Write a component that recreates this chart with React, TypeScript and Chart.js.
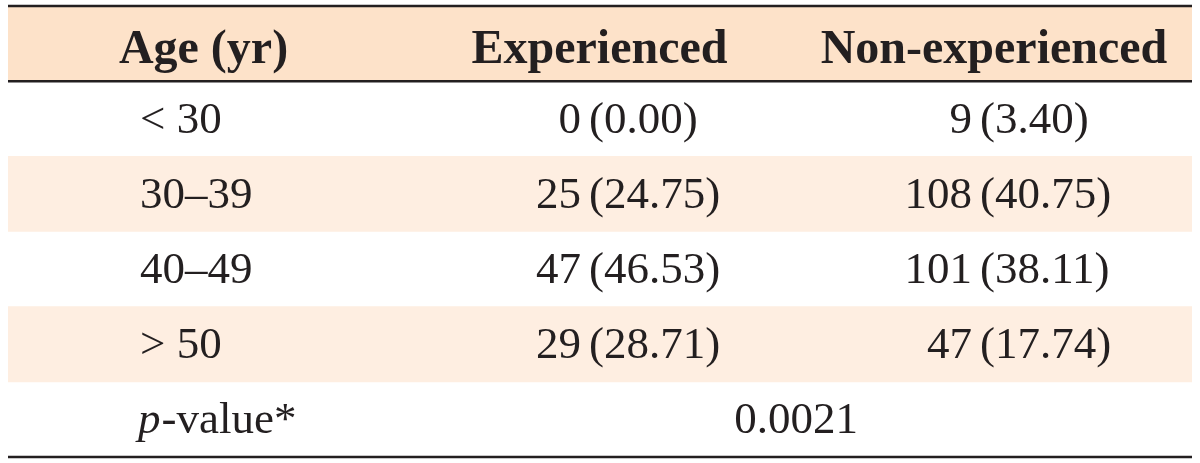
import React, { useEffect, useRef } from 'react';
import { Chart, registerables } from 'chart.js';

Chart.register(...registerables);

// ---- data ----
const headers = ['Age (yr)', 'Experienced', 'Non-experienced'];
const ageGroups = ['< 30', '30–39', '40–49', '> 50'];
const experiencedN = [0, 25, 47, 29];
const experiencedPct = [0.0, 24.75, 46.53, 28.71];
const nonExperiencedN = [9, 108, 101, 47];
const nonExperiencedPct = [3.4, 40.75, 38.11, 17.74];
const pValueItalic = 'p';
const pValueRest = '-value*';
const pValue = '0.0021';

// ---- layout / style ----
const rowKeys = ['header', ...ageGroups, 'pvalue'];
const TEXT = '#231f20';
const HEADER_BG = '#fde2c9';
const BAND_BG = '#feeee1';
const FONT = '"Liberation Serif", "Times New Roman", serif';
const TABLE_LEFT = 8;
const TABLE_RIGHT = 1192;
const COL1_LEFT = 140;
const HEADER_CENTERS = [203.5, 599.5, 994];
const PAREN_ANCHORS = [589, 980];
const COUNT_GAP = 8;
const PVALUE_CENTER = 796;

const rowColors = rowKeys.map((k, i) =>
  i === 0 ? HEADER_BG : i === 2 || i === 4 ? BAND_BG : 'rgba(255,255,255,0)'
);

const tablePlugin = {
  id: 'tableText',
  afterDatasetsDraw(chart: any) {
    const { ctx, scales } = chart;
    const x = scales.x;
    const y = scales.y;
    const band = y.getPixelForValue(1) - y.getPixelForValue(0);
    ctx.save();
    ctx.fillStyle = TEXT;

    // header
    const hc = y.getPixelForValue(0);
    ctx.font = `bold 48px ${FONT}`;
    ctx.textAlign = 'center';
    ctx.textBaseline = 'alphabetic';
    headers.forEach((h, i) => {
      ctx.fillText(h, x.getPixelForValue(HEADER_CENTERS[i]), hc + 19);
    });

    // body rows
    ctx.font = `45px ${FONT}`;
    ageGroups.forEach((g, i) => {
      const cy = y.getPixelForValue(i + 1) + 14;
      ctx.textAlign = 'left';
      ctx.fillText(g, x.getPixelForValue(COL1_LEFT), cy);
      const cols = [
        [experiencedN[i], experiencedPct[i]],
        [nonExperiencedN[i], nonExperiencedPct[i]],
      ];
      cols.forEach(([n, p], c) => {
        const ax = x.getPixelForValue(PAREN_ANCHORS[c]);
        ctx.textAlign = 'right';
        ctx.fillText(String(n), ax - COUNT_GAP, cy);
        ctx.textAlign = 'left';
        ctx.fillText(`(${(p as number).toFixed(2)})`, ax, cy);
      });
    });

    // p-value row
    const py = y.getPixelForValue(rowKeys.length - 1) + 14;
    ctx.textAlign = 'left';
    ctx.font = `italic 45px ${FONT}`;
    const px = x.getPixelForValue(COL1_LEFT - 2);
    ctx.fillText(pValueItalic, px, py);
    const w = ctx.measureText(pValueItalic).width;
    ctx.font = `45px ${FONT}`;
    ctx.fillText(pValueRest, px + w + 1, py);
    ctx.textAlign = 'center';
    ctx.fillText(pValue, x.getPixelForValue(PVALUE_CENTER), py);

    // rules
    ctx.strokeStyle = TEXT;
    ctx.lineWidth = 2.5;
    const xl = x.getPixelForValue(TABLE_LEFT);
    const xr = x.getPixelForValue(TABLE_RIGHT);
    const lines = [
      y.getPixelForValue(0) - band / 2,
      y.getPixelForValue(0) + band / 2,
      y.getPixelForValue(rowKeys.length - 1) + band / 2,
    ];
    lines.forEach((ly) => {
      ctx.beginPath();
      ctx.moveTo(xl, ly);
      ctx.lineTo(xr, ly);
      ctx.stroke();
    });
    ctx.restore();
  },
};

export default function App() {
  const ref = useRef<HTMLCanvasElement>(null);
  useEffect(() => {
    document.body.style.margin = '0';
    const chart = new Chart(ref.current!, {
      type: 'bar',
      data: {
        labels: rowKeys,
        datasets: [
          {
            data: rowKeys.map(() => [TABLE_LEFT, TABLE_RIGHT]) as any,
            backgroundColor: rowColors,
            borderWidth: 0,
            barPercentage: 1,
            categoryPercentage: 1,
          },
        ],
      },
      options: {
        indexAxis: 'y',
        responsive: false,
        animation: false,
        layout: { padding: { top: 6, bottom: 6, left: 8, right: 8 } },
        plugins: { legend: { display: false }, tooltip: { enabled: false } },
        scales: {
          x: { type: 'linear', min: TABLE_LEFT, max: TABLE_RIGHT, display: false },
          y: { type: 'category', display: false },
        },
      },
      plugins: [tablePlugin],
    });
    return () => chart.destroy();
  }, []);
  return (
    <div style={{ width: 1200, height: 463 }}>
      <canvas ref={ref} width={1200} height={463} style={{ display: 'block' }} />
    </div>
  );
}
